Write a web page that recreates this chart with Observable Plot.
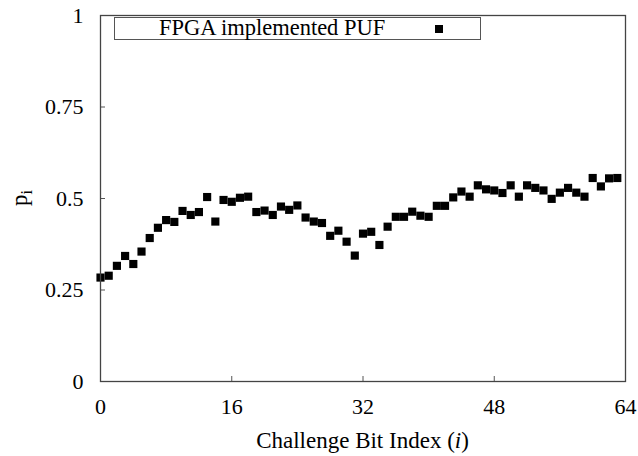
<!DOCTYPE html>
<html>
<head>
<meta charset="utf-8">
<script src="https://cdn.jsdelivr.net/npm/d3@7"></script>
<script src="https://cdn.jsdelivr.net/npm/@observablehq/plot@0.6"></script>
<style>
  html, body { margin: 0; padding: 0; background: #fff; }
  #wrap { position: relative; width: 638px; height: 456px; font-family: "Liberation Serif", "Times New Roman", serif; }
  #wrap svg, #wrap svg text, #wrap svg tspan { font-family: "Liberation Serif", "Times New Roman", serif !important; }
  #legend { position: absolute; left: 114px; top: 17px; width: 365px; height: 21px; border: 1px solid #555; background: #fff; box-sizing: content-box; }
  #legend .lbl { position: absolute; left: 44px; top: -2px; font-size: 22.5px; line-height: 24px; color: #000; white-space: nowrap; }
  #legend .sw { position: absolute; left: 320px; top: 7px; width: 8px; height: 8px; background: #000; }
</style>
</head>
<body>
<div id="wrap"></div>
<script>
const seriesName = "FPGA implemented PUF";
const bitIndex = d3.range(0, 64);
const pValues = [
  0.284, 0.289, 0.316, 0.343, 0.321, 0.355, 0.392, 0.420, 0.441, 0.436,
  0.466, 0.455, 0.463, 0.504, 0.437, 0.496, 0.491, 0.502, 0.505, 0.463,
  0.467, 0.455, 0.478, 0.469, 0.481, 0.448, 0.437, 0.433, 0.398, 0.412,
  0.382, 0.344, 0.404, 0.409, 0.373, 0.423, 0.450, 0.450, 0.464, 0.453,
  0.450, 0.480, 0.480, 0.503, 0.519, 0.505, 0.536, 0.525, 0.522, 0.515,
  0.536, 0.505, 0.536, 0.529, 0.522, 0.499, 0.516, 0.529, 0.516, 0.505,
  0.556, 0.533, 0.555, 0.556
];
const xTicks = [0, 16, 32, 48, 64];
const yTicks = [0, 0.25, 0.5, 0.75, 1];
const yTickLabels = ["0", "0.25", "0.5", "0.75", "1"];

const data = bitIndex.map((i, k) => ({i, p: pValues[k]}));
const serif = "Liberation Serif";

const plot = Plot.plot({
  width: 638,
  height: 456,
  marginLeft: 100,
  marginRight: 13,
  marginTop: 15,
  marginBottom: 75,
  style: {fontFamily: serif, fontSize: "22px", background: "#fff", color: "#000"},
  x: {domain: [0, 64]},
  y: {domain: [0, 1]},
  marks: [
    Plot.axisX(xTicks, {tickSize: -5, tickPadding: 21.5, stroke: "#555", label: null, fontSize: 22, fontFamily: serif}),
    Plot.axisY(yTicks, {tickSize: -5, tickPadding: 22, stroke: "#555", label: null, fontSize: 22, fontFamily: serif,
      tickFormat: (d) => yTickLabels[yTicks.indexOf(d)]}),
    Plot.dot(data, {x: "i", y: "p", symbol: "square", r: 4.6, fill: "#000", stroke: null}),
    Plot.frame({stroke: "#444", strokeWidth: 1.3})
  ]
});

const wrap = document.getElementById("wrap");
wrap.appendChild(plot);

const svg = d3.select(plot);
const xl = svg.append("text")
  .attr("x", 362.5).attr("y", 447.5)
  .attr("text-anchor", "middle")
  .attr("font-family", serif)
  .attr("font-size", 23)
  .attr("fill", "#000");
xl.append("tspan").text("Challenge Bit Index (");
xl.append("tspan").attr("font-style", "italic").text("i");
xl.append("tspan").text(")");

const yl = svg.append("text")
  .attr("transform", "translate(27,198) rotate(-90)")
  .attr("text-anchor", "middle")
  .attr("font-family", serif)
  .attr("font-size", 23)
  .attr("fill", "#000");
yl.append("tspan").text("p");
yl.append("tspan").attr("font-size", 16).attr("dy", 5).text("i");

const lg = document.createElement("div");
lg.id = "legend";
lg.innerHTML = `<span class="lbl"></span><span class="sw"></span>`;
lg.querySelector(".lbl").textContent = seriesName;
wrap.appendChild(lg);
</script>
</body>
</html>
